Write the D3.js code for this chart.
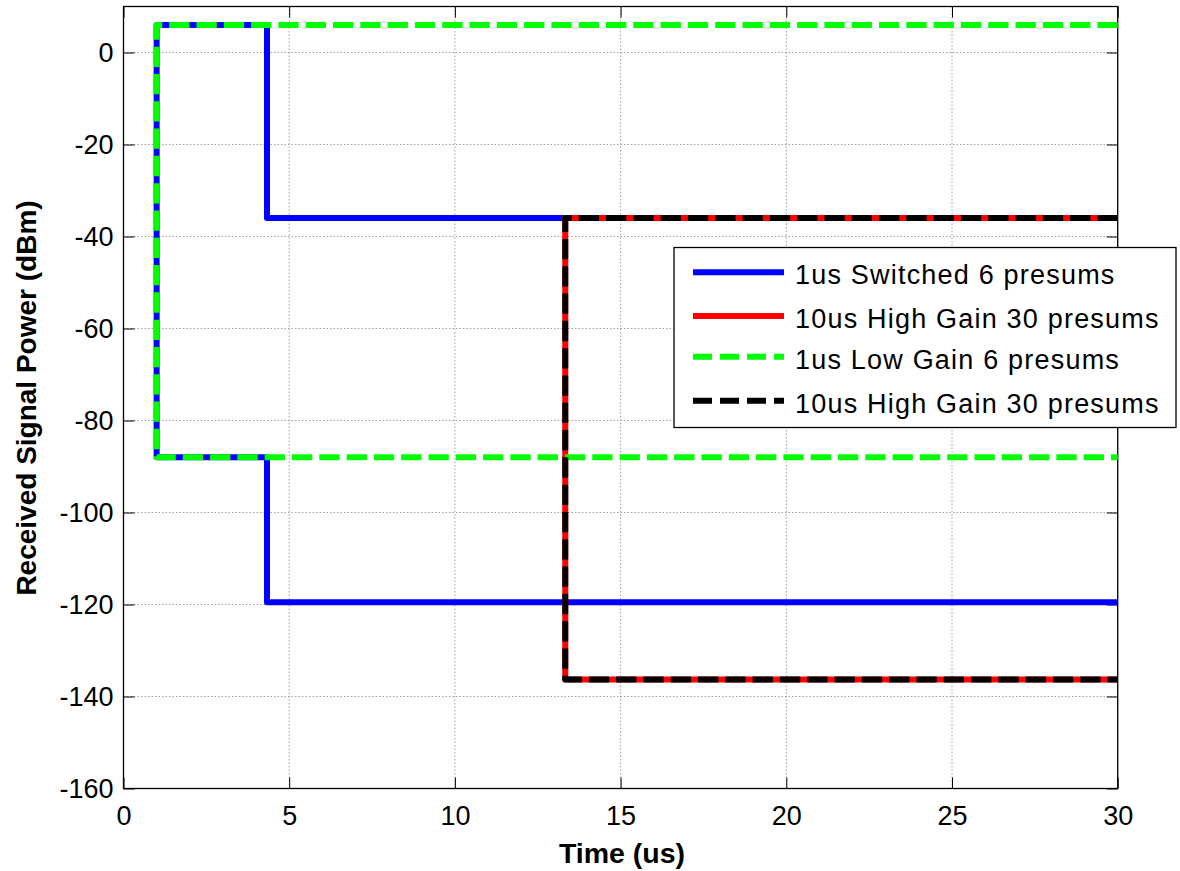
<!DOCTYPE html>
<html>
<head>
<meta charset="utf-8">
<script src="https://cdn.jsdelivr.net/npm/d3@7"></script>
<style>
  html, body { margin: 0; padding: 0; background: #fff; }
  svg { display: block; }
  text { font-family: "Liberation Sans", Arial, sans-serif; fill: #000; }
</style>
</head>
<body>
<svg id="chart" width="1180" height="871"></svg>
<script>
// Axis ticks
const xTicks = [0, 5, 10, 15, 20, 25, 30];
const yTicks = [-160, -140, -120, -100, -80, -60, -40, -20, 0];

// Legend entries
const seriesNames = [
  "1us Switched 6 presums",
  "10us High Gain 30 presums",
  "1us Low Gain 6 presums",
  "10us High Gain 30 presums"
];

// Step traces: time (us) and received power (dBm)
const switchedTime  = [30, 4.33, 4.33, 1, 1, 4.33, 4.33, 30];
const switchedPower = [-36, -36, 6, 6, -88, -88, -119.5, -119.5];

const highGainTime  = [30, 13.33, 13.33, 30];
const highGainPower = [-36, -36, -136.3, -136.3];

const lowGainTime  = [30, 1, 1, 30];
const lowGainPower = [6, 6, -88, -88];

const highGain2Time  = [30, 13.33, 13.33, 30];
const highGain2Power = [-36, -36, -136.3, -136.3];

const svg = d3.select("#chart");

const pLeft = 123.5, pRight = 1117.7, pTop = 6.5, pBottom = 788.5;
const x = d3.scaleLinear().domain([0, 30]).range([pLeft, pRight]);
const y = d3.scaleLinear().domain([-160, 10]).range([pBottom, pTop]);

// Dotted grid
const grid = svg.append("g").attr("stroke", "#a0a0a0").attr("stroke-width", 1)
  .attr("stroke-dasharray", "1.5,2");
xTicks.forEach(t => {
  grid.append("line").attr("x1", x(t)).attr("x2", x(t)).attr("y1", pTop).attr("y2", pBottom);
});
yTicks.forEach(t => {
  grid.append("line").attr("x1", pLeft).attr("x2", pRight).attr("y1", y(t)).attr("y2", y(t));
});

// Axes with inward ticks on all four sides; plain hyphen for negatives
const tickLen = 11;
const fs = 27;
const plain = d => String(d);
const axBottom = svg.append("g").attr("transform", `translate(0,${pBottom})`)
  .call(d3.axisBottom(x).tickValues(xTicks).tickFormat(plain).tickSizeInner(-tickLen).tickSizeOuter(0).tickPadding(17));
const axTop = svg.append("g").attr("transform", `translate(0,${pTop})`)
  .call(d3.axisTop(x).tickValues(xTicks).tickSizeInner(-tickLen).tickSizeOuter(0).tickFormat(""));
const axLeft = svg.append("g").attr("transform", `translate(${pLeft},0)`)
  .call(d3.axisLeft(y).tickValues(yTicks).tickFormat(plain).tickSizeInner(-tickLen).tickSizeOuter(0).tickPadding(10));
const axRight = svg.append("g").attr("transform", `translate(${pRight},0)`)
  .call(d3.axisRight(y).tickValues(yTicks).tickSizeInner(-tickLen).tickSizeOuter(0).tickFormat(""));

[axBottom, axTop, axLeft, axRight].forEach(a => {
  a.select(".domain").remove();
  a.selectAll(".tick line").attr("stroke", "#000").attr("stroke-width", 1);
  a.selectAll("text").attr("font-size", fs).attr("font-family", "Liberation Sans, Arial, sans-serif");
});

// Plot frame
svg.append("rect").attr("x", pLeft).attr("y", pTop)
  .attr("width", pRight - pLeft).attr("height", pBottom - pTop)
  .attr("fill", "none").attr("stroke", "#000").attr("stroke-width", 1.3);

// Traces
const line = d3.line().x(d => x(d[0])).y(d => y(d[1]));
const zip = (t, p) => t.map((v, i) => [v, p[i]]);
const traces = [
  { data: zip(switchedTime, switchedPower), color: "#0000ff", dash: null },
  { data: zip(highGainTime, highGainPower), color: "#ff0000", dash: null },
  { data: zip(lowGainTime, lowGainPower), color: "#00ff00", dash: "20.3,7" },
  { data: zip(highGain2Time, highGain2Power), color: "#000000", dash: "20.3,7" }
];
const lw = 6;
traces.forEach(s => {
  const p = svg.append("path").datum(s.data).attr("d", line)
    .attr("fill", "none").attr("stroke", s.color).attr("stroke-width", lw)
    .attr("stroke-linejoin", "round").attr("stroke-linecap", "butt");
  if (s.dash) p.attr("stroke-dasharray", s.dash);
});

// Axis titles
svg.append("text").attr("x", 622).attr("y", 863).attr("text-anchor", "middle")
  .attr("font-size", 28.5).attr("font-weight", "bold").text("Time (us)");
svg.append("text").attr("transform", "translate(36,398) rotate(-90)").attr("text-anchor", "middle")
  .attr("font-size", 28).attr("font-weight", "bold").text("Received Signal Power (dBm)");

// Legend
const lg = svg.append("g");
lg.append("rect").attr("x", 674).attr("y", 247.5).attr("width", 502).attr("height", 180)
  .attr("fill", "#fff").attr("stroke", "#000").attr("stroke-width", 1.3);
const rowY = [272.3, 316, 356.7, 400.7];
traces.forEach((s, i) => {
  const l = lg.append("line").attr("x1", 693).attr("x2", 784).attr("y1", rowY[i]).attr("y2", rowY[i])
    .attr("stroke", s.color).attr("stroke-width", lw);
  if (s.dash) l.attr("stroke-dasharray", "19,8");
  lg.append("text").attr("x", 795).attr("y", rowY[i] + 12)
    .attr("font-size", fs).attr("letter-spacing", 1.2).text(seriesNames[i]);
});
</script>
</body>
</html>
